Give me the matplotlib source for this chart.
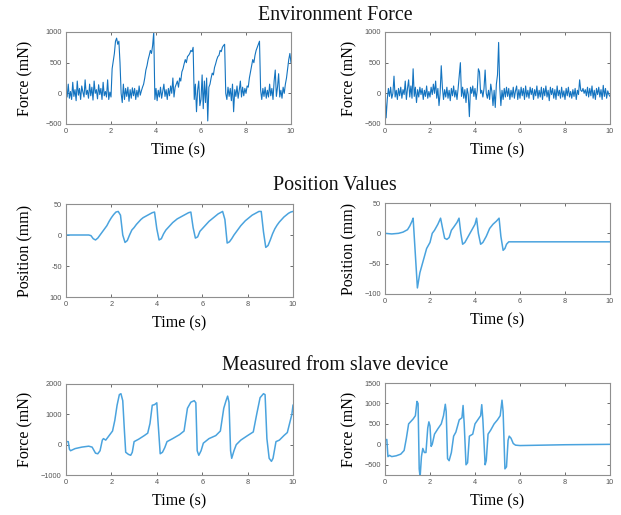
import numpy as np
import matplotlib
matplotlib.use("Agg")
import matplotlib.pyplot as plt

# ---------------- data ----------------
env_dt = 0.05
env_force_left = [
    0, -60, 150, -80, 30, -100, 180, -50, 60, -120, 200, -30, 80, -100, 120, 20, -60, 220, -20, 50,
    -80, 150, -40, 100, -110, 200, 0, 60, -90, 140, -20, 80, -100, 180, -40, 30, -60, 220, -100, 20,
    -60, 400, 520, 650, 850, 900, 800, 850, 500, 0, -150, 150, -100, 80, -50, 100, -130, 60, -80, 90,
    -40, 80, -100, 50, -60, 120, -30, 40, 100, 150, 250, 380, 450, 550, 620, 700, 650, 780, 1000, -100,
    80, -120, 50, -60, 100, -80, 30, 150, -50, 60, -100, 80, -40, 120, 0, 250, -60, 100, 150, 200,
    100, 250, 200, 350, 400, 480, 550, 500, 600, 620, 650, 700, 680, 750, -100, 150, -300, 50, 200, -200,
    -100, 300, -250, 200, -150, 250, -450, 100, 150, 250, 330, 300, 420, 480, 550, 600, 620, 700, 680, 750,
    780, 800, 0, -100, 100, -50, 80, -120, 150, -300, 60, -50, 120, -80, 50, 200, -60, 100, -40, 80,
    0, 120, 100, 250, 350, 450, 550, 500, 620, 700, 750, 800, 850, 50, -100, 80, -50, 100, -80, 50,
    -60, 150, -40, 80, -100, 200, 380, -50, 100, 320, -60, 50, -80, 100, 0, 150, 250, 400, 550, 650,
    500,
]
env_force_right = [
    50, -400, -100, 80, -50, 100, -80, 0, 280, -60, 50, -100, 80, -40, 100, -80, 60, -20, 200, -100,
    80, 220, -60, 120, -80, 400, -50, 100, -150, 60, -60, 100, -20, 80, -100, 50, -50, 120, -80, 30,
    -60, 100, -20, 150, 0, 200, -80, 80, -200, 0, 450, 100, -100, 60, -60, 100, -80, 50, -120, 80,
    -40, 120, -60, 50, -100, 80, 300, 500, -50, 100, -80, 60, -150, 80, -20, -380, 100, 0, 120, -50,
    80, -100, 50, 400, 350, 0, 50, -60, 80, 380, 0, -80, 50, -100, 150, 30, -200, 50, -230, 150,
    300, 830, 100, -200, 50, -100, 80, -60, 100, -50, 80, -100, 50, -60, 100, -80, 40, 120, -100, 60,
    -80, 100, -40, 80, -100, 120, -60, 50, -80, 100, -20, 80, -100, 60, -40, 120, -80, 50, -60, 100,
    -100, 80, -40, 120, -60, 50, -120, 100, -20, 80, -80, 60, -100, 120, -40, 50, -80, 100, -60, 40,
    -100, 80, -40, 100, -60, 30, -80, 60, -50, 80, -100, 50, -20, 220, 50, 30, 80, 0, 60, -40,
    100, -60, 80, -40, 120, -80, 50, -100, 80, -20, 100, -60, 60, -100, 130, -50, 80, -80, 40, -20,
    -50,
]

pos_left_t = [0.0, 0.5, 1.0, 1.1, 1.2, 1.3, 1.4, 1.5, 1.6, 1.7, 1.8, 1.9, 2.0, 2.1, 2.2, 2.3, 2.4, 2.5,
              2.6, 2.7, 2.8, 2.9, 3.0, 3.1, 3.2, 3.3, 3.4, 3.5, 3.6, 3.7, 3.8, 3.9, 4.0, 4.1, 4.2,
              4.3, 4.4, 4.5, 4.6, 4.7, 4.8, 4.9, 5.0, 5.1, 5.2, 5.3, 5.4, 5.5, 5.6, 5.7, 5.8, 5.9,
              6.0, 6.1, 6.2, 6.3, 6.4, 6.5, 6.6, 6.7, 6.8, 6.9, 7.0, 7.1, 7.2, 7.3, 7.4, 7.5, 7.6,
              7.7, 7.8, 7.9, 8.0, 8.1, 8.2, 8.3, 8.4, 8.5, 8.6, 8.7, 8.8, 8.9, 9.0, 9.1, 9.2, 9.3,
              9.4, 9.5, 9.6, 9.7, 9.8, 9.9, 10.0]
pos_left = [0, 0, 0, -1, -6, -8, -5, 0, 5, 10, 15, 22, 28, 33, 37, 38, 32, 0,
            -12, -9, 0, 8, 12, 17, 21, 25, 28, 30, 32, 34, 36, 37, 10, -8, -6,
            2, 8, 12, 16, 20, 23, 26, 28, 30, 32, 34, 36, 37, 12, -5, -3, 6,
            10, 14, 18, 22, 25, 28, 31, 34, 36, 38, 25, -13, -11, -6, 0, 5, 10,
            15, 19, 23, 26, 29, 32, 34, 36, 38, 38, 5, -20, -17, -8, 2, 10, 16,
            21, 25, 29, 32, 35, 37, 38]

pos_right_t = [0, 0.3, 0.6, 0.8, 1.0, 1.1, 1.2, 1.25, 1.44, 1.55, 1.7, 1.85, 2.0, 2.1, 2.2, 2.35, 2.47,
               2.55, 2.65, 2.75, 2.85, 2.95, 3.05, 3.2, 3.29, 3.37, 3.45, 3.55, 3.7, 3.85, 4.0, 4.07,
               4.15, 4.25, 4.35, 4.5, 4.65, 4.8, 4.95, 5.07, 5.15, 5.25, 5.33, 5.4, 5.5, 5.6, 10]
pos_right = [0, -1, 0, 2, 6, 12, 20, 25, -90, -65, -45, -25, -15, 0, 5, 15, 25,
             10, -8, -10, -7, 5, 10, 18, 25, 0, -18, -15, -5, 5, 15, 25,
             0, -18, -15, -5, 8, 15, 20, 25, -5, -28, -25, -18, -14, -14, -14]

slave_left_t = [0, 0.1, 0.15, 0.2, 0.4, 0.7, 1.0, 1.15, 1.3, 1.4, 1.5, 1.6, 1.65, 1.75, 1.9, 2.05, 2.15,
                2.25, 2.35, 2.42, 2.5, 2.57, 2.63, 2.75, 2.85, 2.92, 3.0, 3.2, 3.45, 3.6, 3.7, 3.8,
                3.9, 4.0, 4.05, 4.15, 4.25, 4.35, 4.45, 4.7, 5.0, 5.2, 5.35, 5.5, 5.65, 5.72, 5.78,
                5.85, 5.95, 6.05, 6.3, 6.6, 6.8, 6.95, 7.05, 7.12, 7.18, 7.25, 7.3, 7.4, 7.5, 7.7,
                8.0, 8.25, 8.4, 8.55, 8.7, 8.77, 8.85, 8.95, 9.05, 9.12, 9.25, 9.4, 9.6, 9.75, 9.85,
                9.95, 10.0]
slave_left = [100, 100, -150, -200, -130, -80, -50, -80, -280, -300, -200, 150, 200, 150, 300, 450, 800,
              1300, 1650, 1680, 1450, 500, -250, -320, -350, -250, 100, 180, 300, 380, 700, 1300,
              1320, 1380, 800, -300, -250, -100, 100, 200, 330, 450, 1200, 1400, 1450, 1380, -200,
              -350, -200, 50, 200, 300, 450, 1200, 1450, 1600, 1400, -200, -450, -200, 0, 150,
              300, 420, 1000, 1550, 1680, 1650, 200, -450, -550, -450, 100, 150, 300, 400, 700,
              1000, 1300]

slave_right_t = [0, 0.08, 0.13, 0.2, 0.3, 0.5, 0.7, 0.85, 0.95, 1.05, 1.15, 1.25, 1.35, 1.42, 1.47, 1.52,
                 1.56, 1.62, 1.68, 1.75, 1.82, 1.9, 1.95, 2.0, 2.05, 2.1, 2.2, 2.35, 2.5, 2.6, 2.68,
                 2.72, 2.78, 2.85, 2.95, 3.05, 3.15, 3.3, 3.42, 3.47, 3.52, 3.6, 3.67, 3.75, 3.9, 4.0,
                 4.15, 4.25, 4.3, 4.35, 4.45, 4.5, 4.58, 4.7, 4.85, 5.0, 5.12, 5.2, 5.25, 5.33, 5.4,
                 5.47, 5.52, 5.6, 5.7, 5.8, 6.0, 7.0, 8.0, 10.0]
slave_right = [100, 120, -300, -270, -300, -280, -240, -150, 150, 500, 560, 620, 700, 1050, 1000, -600,
               -800, -300, -100, -200, -200, 400, 550, 450, -50, 0, 250, 380, 500, 700, 980,
               800, -350, -400, -200, 200, 300, 600, 650, 950, 500, -500, -450, 200, 250, 500,
               620, 700, 970, 600, -500, -400, 250, 350, 500, 600, 700, 1080, 800, -600, -550,
               100, 200, 150, 20, -20, -30, -20, -10, 0]

x_ticks = [0, 2, 4, 6, 8, 10]
row_titles = ["Environment Force", "Position Values", "Measured from slave device"]
y_labels = ["Force (mN)", "Position (mm)", "Force (mN)"]
y_ticks = {
    "env": [-500, 0, 500, 1000],
    "pos": [-100, -50, 0, 50],
    "slave_l": [-1000, 0, 1000, 2000],
    "slave_r": [-500, 0, 500, 1000, 1500],
}

# ---------------- figure ----------------
W, H = 621, 515
fig = plt.figure(figsize=(W / 100, H / 100), dpi=100)
serif = "Liberation Serif"
sans = "Liberation Sans"


def px_axes(x0, y0, x1, y1):
    return fig.add_axes([x0 / W, 1 - y1 / H, (x1 - x0) / W, (y1 - y0) / H])


dark_blue = "#1474c0"
light_blue = "#4aa3de"
frame = "#8f8f8f"


def style(ax, yticks, ylim, ylab, label_x, ytl=None):
    ax.set_xlim(0, 10)
    ax.set_ylim(*ylim)
    ax.set_xticks(x_ticks)
    ax.set_yticks(yticks)
    if ytl is not None:
        ax.set_yticklabels(ytl)
    ax.tick_params(direction="in", length=2.5, width=0.6, color="#555555",
                   top=True, right=True, labelsize=5.3, labelcolor="#555555", pad=3)
    for lab in ax.get_xticklabels() + ax.get_yticklabels():
        lab.set_family(sans)
    for s in ax.spines.values():
        s.set_color(frame)
        s.set_linewidth(0.8)
    ax.set_xlabel("Time (s)", family=serif, fontsize=11.5, labelpad=5)
    ax.set_ylabel(ylab, family=serif, fontsize=11.5)
    ax.yaxis.set_label_coords(label_x, 0.5)


t_env = np.arange(len(env_force_left)) * env_dt

LX_LEFT = -0.143
LX_RIGHT = -0.124

ax = px_axes(66, 32, 291, 124)
ax.plot(t_env, env_force_left, color=dark_blue, lw=0.8)
style(ax, y_ticks["env"], (-500, 1000), y_labels[0], LX_LEFT)

ax = px_axes(385, 32, 610, 124)
ax.plot(t_env, env_force_right, color=dark_blue, lw=0.8)
style(ax, y_ticks["env"], (-500, 1000), y_labels[0], LX_RIGHT)

ax = px_axes(66, 204, 293, 297)
ax.plot(pos_left_t, pos_left, color=light_blue, lw=1.1)
style(ax, y_ticks["pos"], (-100, 50), y_labels[1], LX_LEFT, ["100", "-50", "0", "50"])

ax = px_axes(385, 203, 610, 294)
ax.plot(pos_right_t, pos_right, color=light_blue, lw=1.1)
style(ax, y_ticks["pos"], (-100, 50), y_labels[1], LX_RIGHT)

ax = px_axes(66, 384, 293, 475)
ax.plot(slave_left_t, slave_left, color=light_blue, lw=1.1)
style(ax, y_ticks["slave_l"], (-1000, 2000), y_labels[2], LX_LEFT)

ax = px_axes(385, 383, 610, 475)
ax.plot(slave_right_t, slave_right, color=light_blue, lw=1.1)
style(ax, y_ticks["slave_r"], (-750, 1500), y_labels[2], LX_RIGHT)

for title, y in zip(row_titles, [15, 185, 366]):
    fig.text(335 / W, 1 - y / H, title, family=serif, fontsize=14.4,
             ha="center", va="center", color="#111111")

fig.savefig("out.png", dpi=100)
